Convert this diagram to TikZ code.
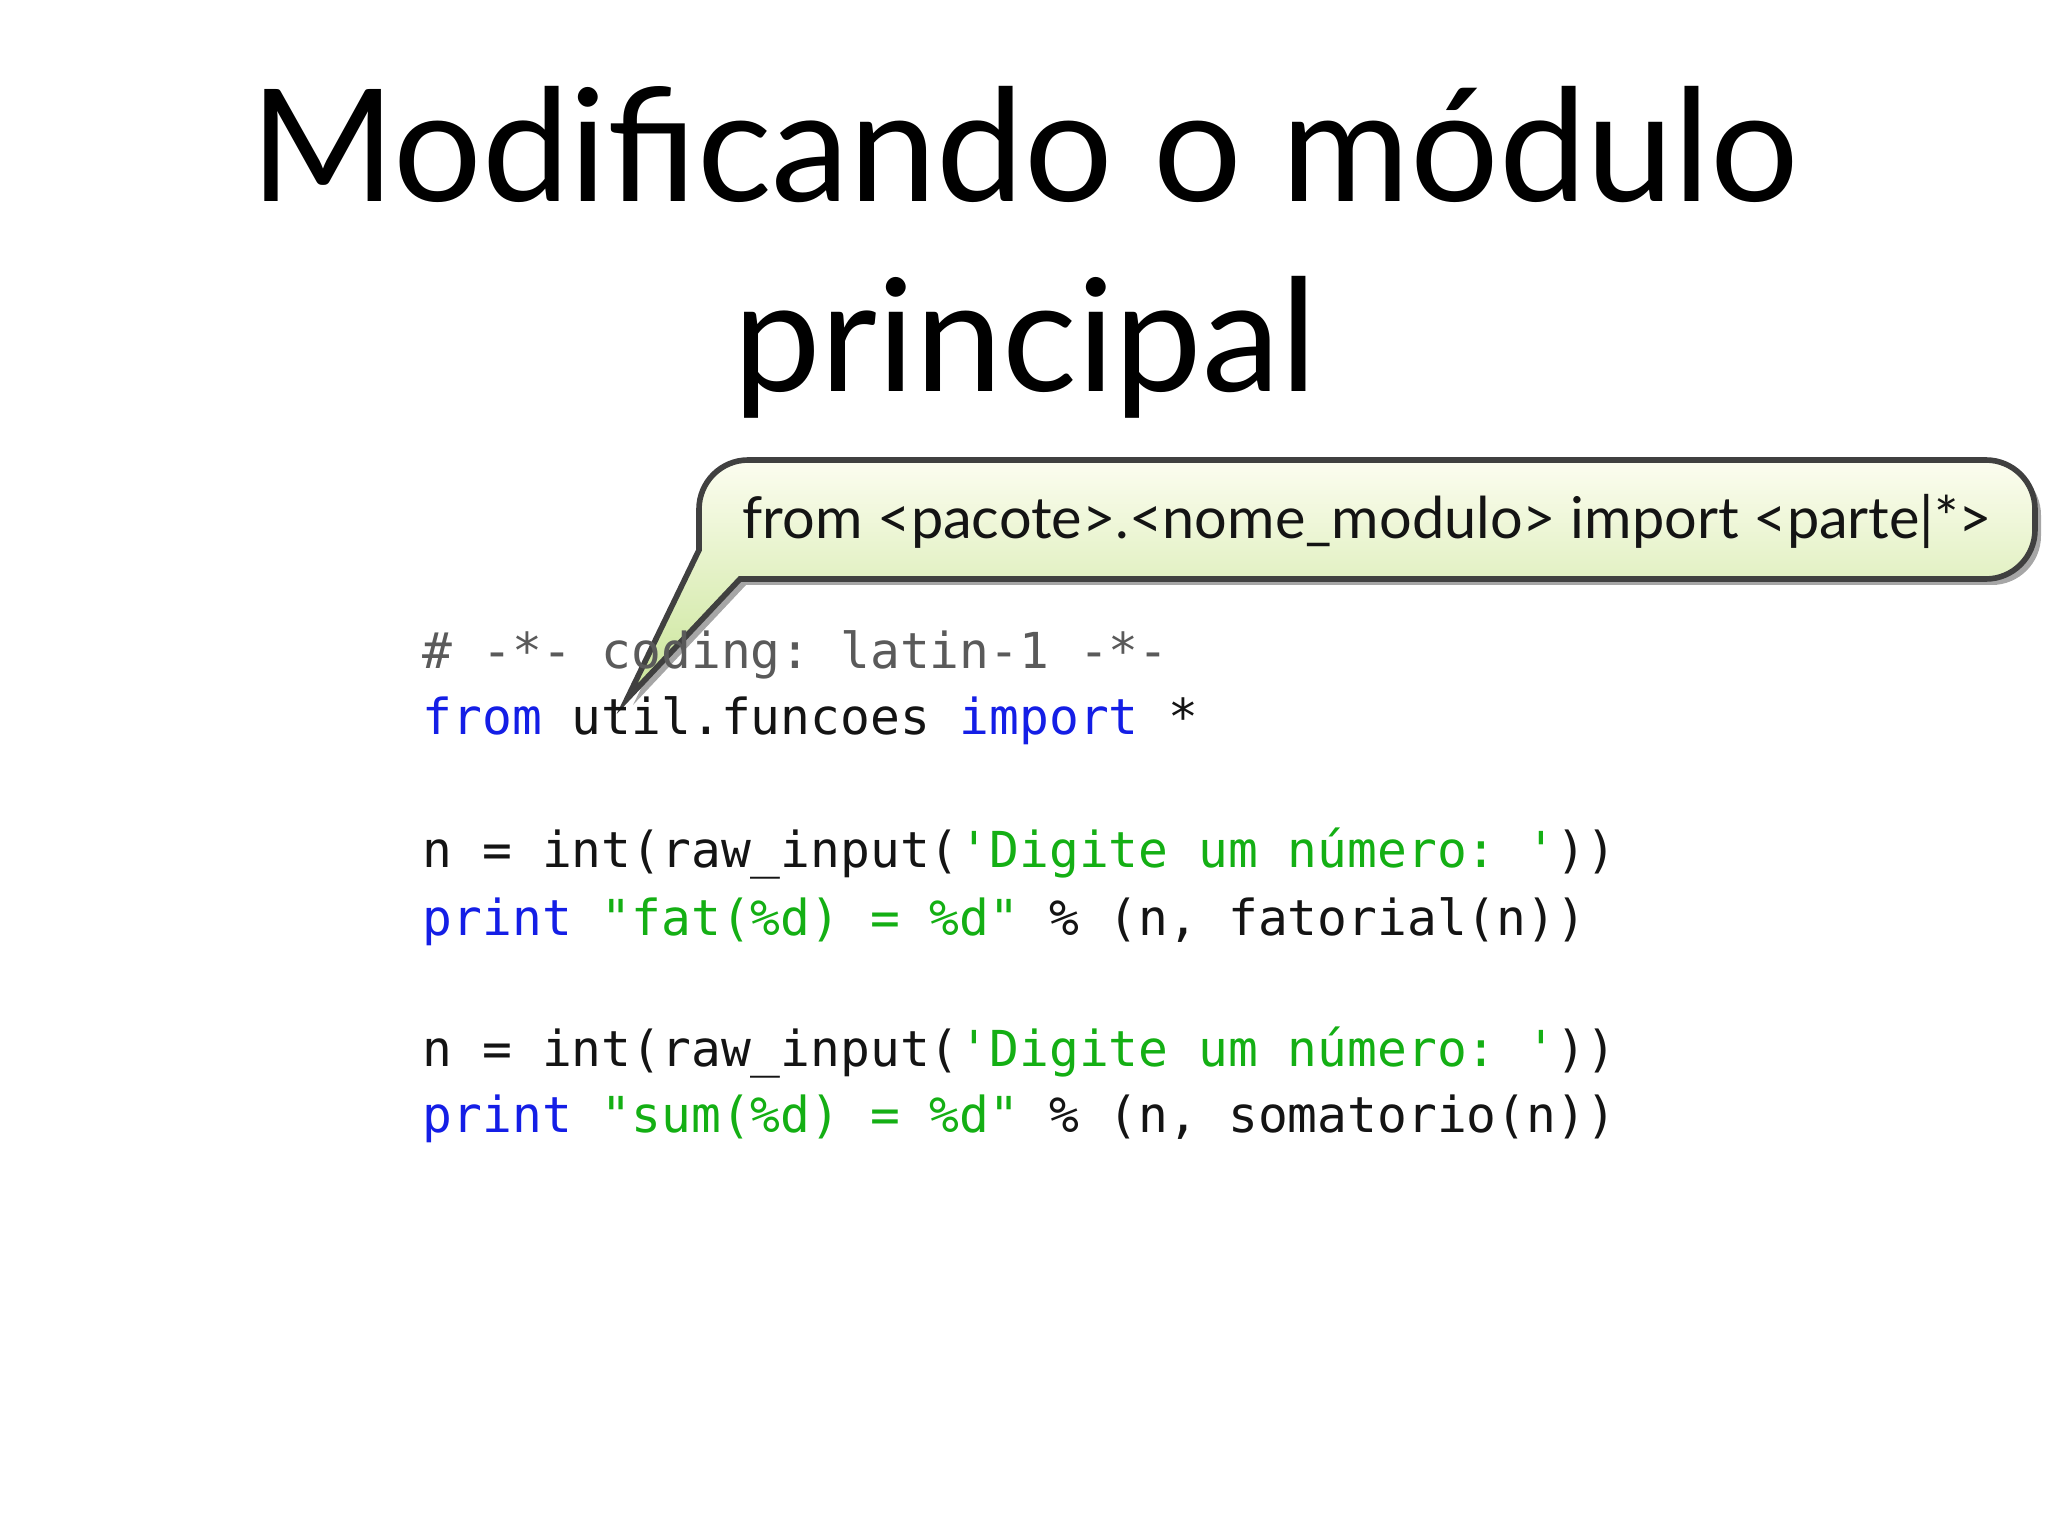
\documentclass[tikz,border=0pt]{standalone}
\usepackage{fontspec}
\setmainfont{Lato}
\setmonofont{DejaVu Sans Mono}
\definecolor{kw}{RGB}{20,30,230}
\definecolor{st}{RGB}{20,175,20}
\definecolor{cm}{RGB}{90,90,90}
\definecolor{tx}{RGB}{20,20,20}
\begin{document}
\begin{tikzpicture}[
  title/.style={font=\fontsize{44.5}{50}\selectfont, text=black, inner sep=0pt, anchor=base},
  codeline/.style={font=\ttfamily\fontsize{14.1}{16}\selectfont, text=tx, inner sep=0pt, anchor=base west},
  callouttext/.style={font=\fontsize{16.4}{19}\selectfont, text=tx, inner sep=0pt, anchor=base west}]
\useasboundingbox (0,0) rectangle (20.48,-15.36);
\fill[white] (0,0) rectangle (20.48,-15.36);
\node[title] (t1) at (10.25,-2.02) {Modificando o módulo};
\node[title] (t2) at (10.25,-3.92) {principal};
% callout shadow
\fill[black,opacity=0.35] (6.33,-7.05) -- (7.05,-5.56) [rounded corners=14pt] -- (7.05,-4.66) -- (20.41,-4.66) -- (20.41,-5.85) [sharp corners] -- (7.46,-5.85) -- cycle;
% callout
\path[draw=black!75, line width=1.6pt, top color={rgb,255:red,252;green,253;blue,240}, bottom color={rgb,255:red,200;green,228;blue,150}]
  (6.27,-6.99) -- (6.99,-5.5) [rounded corners=14pt] -- (6.99,-4.60) -- (20.35,-4.60) -- (20.35,-5.79) [sharp corners] -- (7.40,-5.79) -- cycle;
\node[callouttext] (ct) at (7.42,-5.39) {from <pacote>.<nome\_modulo> import <parte|*>};
% code
\node[codeline] (c1) at (4.22,-6.69) {\textcolor{cm}{\# -*- coding: latin-1 -*-}};
\node[codeline] (c2) at (4.22,-7.35) {\textcolor{kw}{from} util.funcoes \textcolor{kw}{import} *};
\node[codeline] (c3) at (4.22,-8.68) {n = int(raw\_input(\textcolor{st}{'Digite um número: '}))};
\node[codeline] (c4) at (4.22,-9.35) {\textcolor{kw}{print} \textcolor{st}{"fat(\%d) = \%d"} \% (n, fatorial(n))};
\node[codeline] (c5) at (4.22,-10.66) {n = int(raw\_input(\textcolor{st}{'Digite um número: '}))};
\node[codeline] (c6) at (4.22,-11.32) {\textcolor{kw}{print} \textcolor{st}{"sum(\%d) = \%d"} \% (n, somatorio(n))};
\end{tikzpicture}
\end{document}
